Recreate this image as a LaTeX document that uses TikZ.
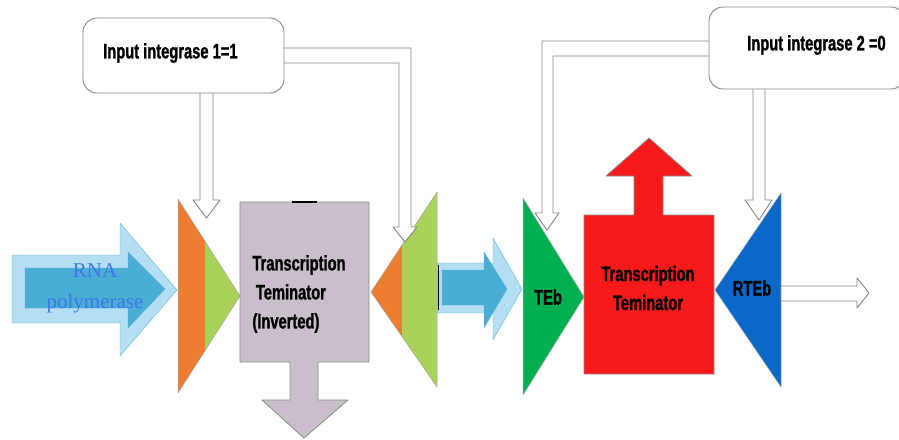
\documentclass[tikz,border=0pt]{standalone}
\usepackage{fontspec}
\newfontfamily\lblfont{Liberation Sans}[FakeStretch=0.7, FakeBold=1.2]
\newfontfamily\rnafont{Liberation Serif}
\definecolor{orng}{HTML}{ED7D31}
\definecolor{lgrn}{HTML}{A9D25A}
\definecolor{dgrn}{HTML}{00B050}
\definecolor{dblu}{HTML}{0A68C8}
\definecolor{rred}{HTML}{F81A1A}
\definecolor{mauve}{HTML}{C9BFCA}
\definecolor{skyout}{HTML}{B4DEF2}
\definecolor{skyin}{HTML}{4AADD6}
\definecolor{skyline}{HTML}{5BB4DA}
\definecolor{rnablue}{HTML}{3C78E6}
\begin{document}
\begin{tikzpicture}[x=1pt, y=-1pt, line join=round,
	hollow/.style={draw=gray!95, fill=white, line width=0.9pt},
	inbox/.style={draw=gray!95, fill=white, line width=0.9pt, rounded corners=14pt},
	part/.style={draw=gray!70, line width=0.5pt},
	lbl/.style={font={\lblfont\bfseries\fontsize{21}{29}\selectfont}, inner sep=0pt},
	rna/.style={font={\rnafont\fontsize{21}{31}\selectfont}, text=rnablue, align=center, inner sep=0pt}]
	\clip (0,0) rectangle (899,439);
	% RNA polymerase arrows
	\draw[skyline, fill=skyout] (12,255) -- (120,255) -- (120,223) -- (177,290) -- (120,356) -- (120,323) -- (12,323) -- cycle;
	\draw[skyline, fill=skyin] (25,268) -- (128,268) -- (128,252) -- (165,289) -- (128,328) -- (128,308) -- (25,308) -- cycle;
	\draw[skyline, fill=skyout] (437,263) -- (493,263) -- (493,238) -- (522,289) -- (493,340) -- (493,313) -- (437,313) -- cycle;
	\draw[skyline, fill=skyin] (442,270) -- (484,270) -- (484,252) -- (507,289) -- (484,328) -- (484,305) -- (442,305) -- cycle;
	% sites
	\fill[orng] (178,199) -- (205,241.2) -- (205,350.8) -- (178,393) -- cycle;
	\fill[lgrn] (205,241.2) -- (240,296) -- (205,350.8) -- cycle;
	\draw[part] (178,199) -- (240,296) -- (178,393) -- cycle;
	\fill[orng] (371,292) -- (402,245) -- (402,336.6) -- cycle;
	\fill[lgrn] (402,245) -- (437,192) -- (437,387) -- (402,336.6) -- cycle;
	\draw[part] (437,192) -- (371,292) -- (437,387) -- cycle;
	\draw[black, line width=1pt] (438,265) -- (438,310);
	\draw[part, fill=dgrn] (523,198) -- (584,297) -- (523,395) -- cycle;
	\draw[part, fill=dblu] (781,193) -- (715,290) -- (781,387) -- cycle;
	% terminators
	\draw[draw=gray!90, fill=mauve, line width=0.8pt] (240,202) -- (369,202) -- (369,362) -- (318,362) -- (318,400) -- (348,400)
		-- (304,438) -- (262,400) -- (290,400) -- (290,362) -- (240,362) -- cycle;
	\draw[black, line width=1.5pt] (292,202) -- (317,202);
	\draw[draw=gray!90, fill=rred, line width=0.8pt] (584,215) -- (634,215) -- (634,176) -- (606,176) -- (649,138) -- (692,176)
		-- (663,176) -- (663,215) -- (714,215) -- (714,374) -- (584,374) -- cycle;
	% integrase inputs
	\draw[hollow] (200,85) -- (200,200) -- (193,200) -- (206.5,218) -- (220,200) -- (213,200) -- (213,85);
	\draw[hollow] (275,48) -- (411,48) -- (411,227) -- (417,227) -- (405,242) -- (393,227) -- (399,227) -- (399,63) -- (275,63);
	\draw[hollow] (720,41) -- (542,41) -- (542,213) -- (535,213) -- (547,230) -- (559,213) -- (553,213) -- (553,56) -- (720,56);
	\draw[hollow] (753,80) -- (753,200) -- (745,200) -- (759,220) -- (772,200) -- (765,200) -- (765,80);
	\draw[hollow] (781,286) -- (857,286) -- (857,278) -- (869,293) -- (857,308) -- (857,301) -- (781,301) -- cycle;
	\node[inbox, minimum width=201pt, minimum height=75pt] (in1) at (183.5,55.5) {};
	\node[inbox, minimum width=196pt, minimum height=82pt] (in2) at (807,48) {};
	% labels
	\node[lbl, anchor=west] (in1lbl) at (103,53) {Input integrase 1=1};
	\node[lbl, anchor=west] (in2lbl) at (747,45) {Input integrase 2 =0};
	\node[lbl, align=left] (t1lbl) at (299,294) {Transcription\\\,Teminator\\(Inverted)};
	\node[lbl, align=center] (t2lbl) at (648,288) {Transcription\\Teminator};
	\node[lbl] (teb) at (548,297) {TEb};
	\node[lbl] (rteb) at (752,288) {RTEb};
	\node[rna] (rnap) at (95,288) {RNA\\polymerase};
\end{tikzpicture}
\end{document}
